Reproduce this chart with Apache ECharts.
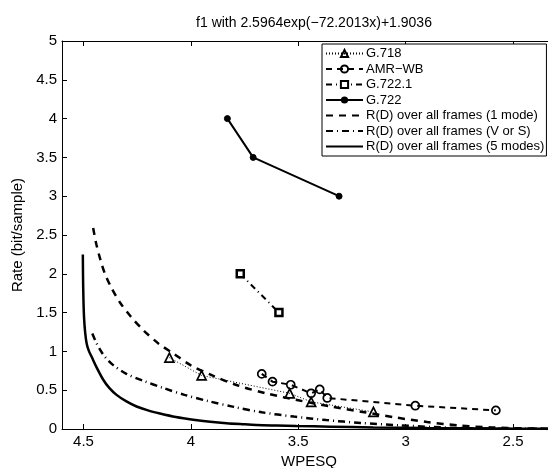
<!DOCTYPE html>
<html>
<head>
<meta charset="utf-8">
<script src="https://cdn.jsdelivr.net/npm/echarts@6/dist/echarts.min.js"></script>
<style>
  html, body { margin: 0; padding: 0; background: #fff; }
  #chart { width: 548px; height: 468px; }
</style>
</head>
<body>
<div id="chart"></div>
<script>
// Codec operating points (WPESQ, rate in bit/sample)
const g718X = [4.10, 3.95, 3.54, 3.44, 3.15];
const g718Y = [0.92, 0.69, 0.46, 0.35, 0.22];

const amrX = [3.67, 3.62, 3.535, 3.44, 3.40, 3.365, 2.955, 2.58];
const amrY = [0.71, 0.61, 0.57, 0.46, 0.51, 0.40, 0.30, 0.24];

const g7221X = [3.77, 3.59];
const g7221Y = [2.0, 1.5];

const g722X = [3.83, 3.71, 3.31];
const g722Y = [4.0, 3.5, 3.0];

// Rate-distortion curves over all frames
const rd1X = [4.455, 4.44, 4.42, 4.40, 4.37, 4.33, 4.28, 4.22, 4.15, 4.08, 4.00, 3.90, 3.78, 3.65, 3.50, 3.35, 3.20, 3.05, 2.90, 2.75, 2.60, 2.45, 2.30];
const rd1Y = [2.59, 2.38, 2.17, 2.00, 1.82, 1.63, 1.45, 1.27, 1.10, 0.97, 0.82, 0.69, 0.56, 0.46, 0.37, 0.29, 0.22, 0.15, 0.09, 0.045, 0.02, 0.008, 0.003];

const rdVSX = [4.459, 4.44, 4.42, 4.40, 4.36, 4.30, 4.22, 4.13, 4.03, 3.92, 3.80, 3.67, 3.52, 3.37, 3.21, 3.03, 2.87, 2.72, 2.55, 2.30];
const rdVSY = [1.23, 1.11, 1.01, 0.93, 0.82, 0.71, 0.62, 0.53, 0.44, 0.36, 0.285, 0.215, 0.16, 0.115, 0.078, 0.048, 0.025, 0.01, 0.004, 0.001];

const rd5X = [4.503, 4.502, 4.500, 4.497, 4.492, 4.485, 4.474, 4.462, 4.44, 4.408, 4.38, 4.346, 4.30, 4.253, 4.20, 4.144, 4.07, 3.989, 3.91, 3.834, 3.76, 3.694, 3.60, 3.508, 3.35, 3.15, 2.90, 2.60, 2.30];
const rd5Y = [2.25, 1.95, 1.65, 1.42, 1.24, 1.10, 1.00, 0.93, 0.80, 0.635, 0.53, 0.44, 0.355, 0.29, 0.24, 0.20, 0.155, 0.12, 0.094, 0.075, 0.062, 0.052, 0.045, 0.039, 0.030, 0.020, 0.012, 0.006, 0.003];

const xTicks = [4.5, 4, 3.5, 3, 2.5];
const titleText = 'f1 with 2.5964exp(\u221272.2013x)+1.9036';

const pair = (xs, ys) => xs.map((x, i) => [x, ys[i]]);

const FONT = 'Liberation Sans, Arial, sans-serif';
const hollow = { color: 'rgba(255,255,255,0)', borderColor: '#000', borderWidth: 1.7 };
// curves carry no marker, so their legend keys show the line only
const noKey = { color: 'rgba(0,0,0,0)', borderColor: 'rgba(0,0,0,0)', borderWidth: 0 };

const chart = echarts.init(document.getElementById('chart'), null, { renderer: 'canvas' });

const xCommon = {
  type: 'value',
  min: 2.3,
  max: 4.6,
  inverse: true,
  splitLine: { show: false },
  axisLine: { show: true, onZero: false, lineStyle: { color: '#000', width: 1 } },
  axisTick: { show: true, inside: true, length: 5, customValues: xTicks, lineStyle: { color: '#000' } }
};

chart.setOption({
  animation: false,
  backgroundColor: '#fff',
  textStyle: { fontFamily: FONT, color: '#000' },
  title: {
    text: titleText,
    left: 309,
    top: 11,
    textAlign: 'center',
    textStyle: { fontFamily: FONT, fontWeight: 'normal', fontSize: 14, color: '#000' }
  },
  grid: { left: 62, top: 41, right: -8, bottom: 39, containLabel: false, outerBoundsMode: 'none' },
  xAxis: [
    Object.assign({}, xCommon, {
      position: 'bottom',
      name: 'WPESQ',
      nameLocation: 'middle',
      nameGap: 22,
      nameTextStyle: { fontFamily: FONT, fontSize: 15, color: '#000' },
      axisLabel: { show: true, customValues: xTicks, margin: 5, fontSize: 15, color: '#000', fontFamily: FONT,
                   formatter: v => String(v) }
    }),
    Object.assign({}, xCommon, {
      position: 'top',
      axisLabel: { show: false }
    })
  ],
  yAxis: {
    type: 'value',
    min: 0,
    max: 5,
    interval: 0.5,
    name: 'Rate (bit/sample)',
    nameLocation: 'middle',
    nameGap: 37,
    nameTextStyle: { fontFamily: FONT, fontSize: 15, color: '#000' },
    splitLine: { show: false },
    axisLine: { show: true, lineStyle: { color: '#000', width: 1 } },
    axisTick: { show: true, inside: true, length: 5, lineStyle: { color: '#000' } },
    axisLabel: { fontSize: 15, color: '#000', margin: 5, fontFamily: FONT }
  },
  legend: {
    orient: 'vertical',
    left: 322,
    top: 44,
    backgroundColor: '#fff',
    borderColor: '#000',
    borderWidth: 1,
    borderRadius: 0,
    padding: [2, 2, 2, 3],
    itemWidth: 37,
    itemHeight: 9,
    itemGap: 0.5,
    textStyle: { fontFamily: FONT, fontSize: 13, lineHeight: 15, color: '#000', padding: [0, 0, 0, -2] },
    data: [
      'G.718', 'AMR\u2212WB', 'G.722.1', 'G.722',
      { name: 'R(D) over all frames (1 mode)', itemStyle: noKey },
      { name: 'R(D) over all frames (V or S)', itemStyle: noKey },
      { name: 'R(D) over all frames (5 modes)', itemStyle: noKey }
    ]
  },
  series: [
    {
      name: 'G.718', type: 'line', data: pair(g718X, g718Y),
      symbol: 'triangle', symbolSize: 9, itemStyle: hollow,
      lineStyle: { color: '#000', width: 1, type: [1, 2] }
    },
    {
      name: 'AMR\u2212WB', type: 'line', data: pair(amrX, amrY),
      symbol: 'circle', symbolSize: 8, itemStyle: hollow,
      lineStyle: { color: '#000', width: 2, type: [6, 5] }
    },
    {
      name: 'G.722.1', type: 'line', data: pair(g7221X, g7221Y),
      symbol: 'rect', symbolSize: 7, itemStyle: { color: '#fff', borderColor: '#000', borderWidth: 2.5 },
      lineStyle: { color: '#000', width: 2, type: [6, 4, 1, 4] }
    },
    {
      name: 'G.722', type: 'line', data: pair(g722X, g722Y),
      symbol: 'circle', symbolSize: 6, itemStyle: { color: '#000', borderColor: '#000' },
      lineStyle: { color: '#000', width: 2 }
    },
    {
      name: 'R(D) over all frames (1 mode)', type: 'line', data: pair(rd1X, rd1Y),
      symbol: 'none', smooth: 0.3, clip: true,
      itemStyle: { color: '#000' },
      lineStyle: { color: '#000', width: 2.5, type: [7, 6] }
    },
    {
      name: 'R(D) over all frames (V or S)', type: 'line', data: pair(rdVSX, rdVSY),
      symbol: 'none', smooth: 0.3, clip: true,
      itemStyle: { color: '#000' },
      lineStyle: { color: '#000', width: 2.5, type: [7, 4, 1, 4] }
    },
    {
      name: 'R(D) over all frames (5 modes)', type: 'line', data: pair(rd5X, rd5Y),
      symbol: 'none', smooth: 0.3, clip: true,
      itemStyle: { color: '#000' },
      lineStyle: { color: '#000', width: 2.5 }
    }
  ]
});
</script>
</body>
</html>
